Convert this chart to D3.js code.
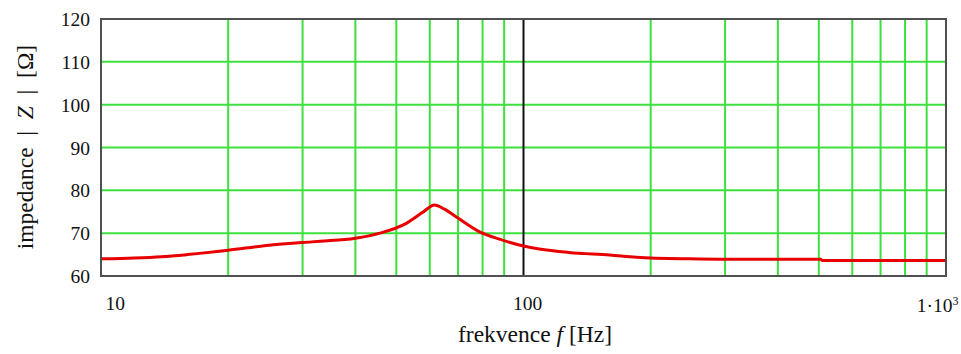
<!DOCTYPE html>
<html><head><meta charset="utf-8">
<script src="https://cdn.jsdelivr.net/npm/d3@7"></script>
<style>
html,body{margin:0;padding:0;background:#fff;}
</style></head>
<body><svg id="chart" width="961" height="354"></svg>
<script>
const freq = [10, 12, 13.9, 16, 20, 25, 30, 33, 40, 45.7, 52.8, 58, 61.5, 65, 69.5, 78.7, 87.7, 100, 109, 128, 160, 185, 247, 300, 400, 505, 510, 700, 1000];
const imp  = [64.0, 64.2, 64.5, 65.0, 66.0, 67.2, 67.8, 68.1, 68.8, 70.0, 72.3, 75.0, 76.6, 75.6, 73.7, 70.3, 68.6, 67.0, 66.3, 65.5, 64.9, 64.4, 64.0, 63.9, 63.9, 63.9, 63.6, 63.6, 63.6];
const xGridTicks = [20,30,40,50,60,70,80,90,200,300,400,500,600,700,800,900];
const xMajorTicks = [10, 100, 1000];
const yTicks = [60,70,80,90,100,110,120];
const yGridTicks = [70,80,90,100,110];

const FONT = '"Liberation Serif", serif';
const L=101, R=946, T=19, B=276;
const svg = d3.select("#chart");
const x = d3.scaleLog().domain([10,1000]).range([L,R]);
const y = d3.scaleLinear().domain([60,120]).range([B,T]);

const g = svg.append("g");
g.selectAll("line.vg").data(xGridTicks).enter().append("line")
  .attr("x1",d=>x(d)).attr("x2",d=>x(d)).attr("y1",T).attr("y2",B)
  .attr("stroke","#3ee03e").attr("stroke-width",2);
g.selectAll("line.hg").data(yGridTicks).enter().append("line")
  .attr("x1",L).attr("x2",R).attr("y1",d=>y(d)).attr("y2",d=>y(d))
  .attr("stroke","#3ee03e").attr("stroke-width",2);
g.append("line").attr("x1",x(100)).attr("x2",x(100)).attr("y1",T).attr("y2",B)
  .attr("stroke","#111").attr("stroke-width",2);

const line = d3.line().x((d,i)=>x(freq[i])).y((d,i)=>y(imp[i])).curve(d3.curveMonotoneX);
g.append("path").datum(imp).attr("d",line).attr("fill","none")
  .attr("stroke","#e80000").attr("stroke-width",3).attr("stroke-linejoin","round");

g.append("rect").attr("x",L).attr("y",T).attr("width",R-L).attr("height",B-T)
  .attr("fill","none").attr("stroke","#505050").attr("stroke-width",2);

const ya = svg.append("g").attr("transform",`translate(${L},0)`)
  .call(d3.axisLeft(y).tickValues(yTicks).tickSize(0).tickPadding(11).tickFormat(d3.format("d")));
ya.select(".domain").remove();
ya.selectAll("text").style("font-family",FONT).attr("font-size",19.5).attr("fill","#111").attr("dy","0.34em");

const xa = svg.append("g").attr("transform",`translate(0,${B})`)
  .call(d3.axisBottom(x).tickValues(xMajorTicks).tickSize(0).tickPadding(0).tickFormat(d=>d===1000?"":String(d)));
xa.select(".domain").remove();
xa.selectAll("text").style("font-family",FONT).attr("font-size",19.5).attr("fill","#111")
  .attr("y",34).attr("dy",0)
  .attr("text-anchor",(d)=>d===10?"start":"middle")
  .attr("dx",d=>d===10?4:3.5);
const last = xa.selectAll("g.tick").filter(d=>d===1000).select("text");
last.attr("text-anchor","end").attr("dx",12).attr("y",36);
last.append("tspan").text("1·10");
last.append("tspan").text("3").attr("font-size",12).attr("dy","-0.6em");

const xt = svg.append("text").attr("x",535).attr("y",342).attr("text-anchor","middle")
  .attr("font-size",23.5).style("font-family",FONT).attr("fill","#111");
xt.append("tspan").text("frekvence ");
xt.append("tspan").text("f").attr("font-style","italic");
xt.append("tspan").text(" [Hz]");

const yt = svg.append("text").attr("transform",`translate(33,147) rotate(-90)`).attr("text-anchor","middle")
  .attr("font-size",23.5).style("font-family",FONT).attr("fill","#111").attr("xml:space","preserve");
yt.append("tspan").text("impedance  |  ");
yt.append("tspan").text("Z").attr("font-style","italic");
yt.append("tspan").text("  |  [Ω]");
</script></body></html>
